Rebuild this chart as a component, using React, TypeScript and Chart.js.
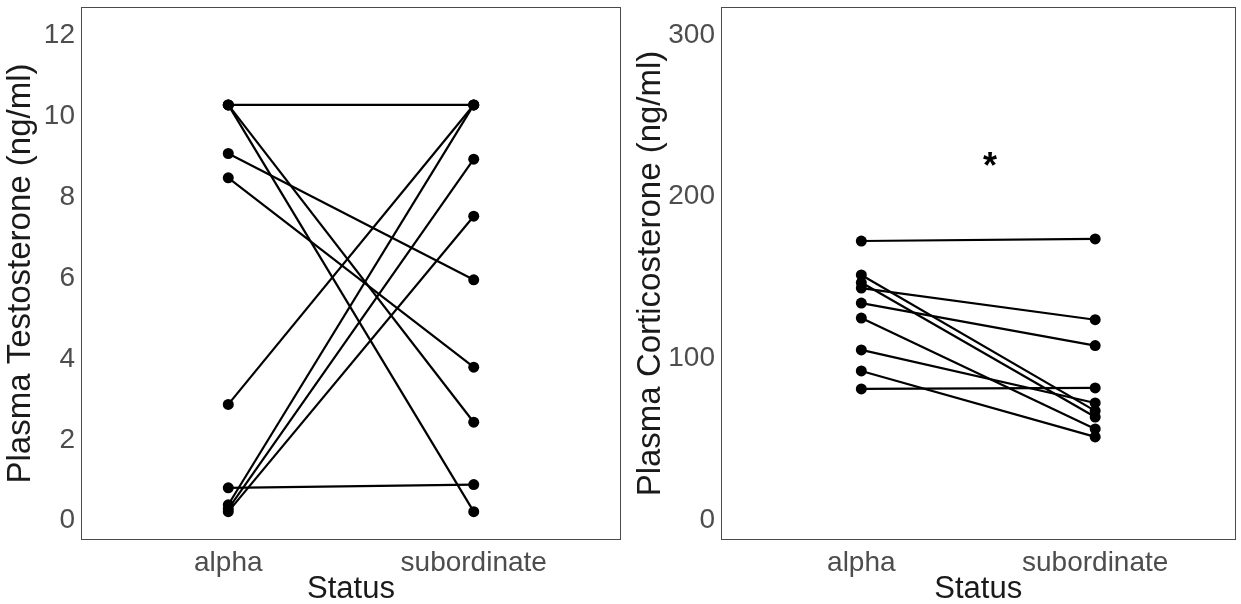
import React, { useEffect, useRef } from "react";
import { Chart, registerables } from "chart.js";

Chart.register(...registerables);

const statusCategories = ["alpha", "subordinate"];
const categoryPositions = [1, 2];

const testoAlpha = [10.2, 10.2, 10.2, 9.0, 8.4, 2.8, 0.74, 0.32, 0.22, 0.15];
const testoSub = [10.2, 2.36, 0.15, 5.88, 3.72, 10.2, 0.82, 10.2, 8.86, 7.45];
const testoTicks = [0, 2, 4, 6, 8, 10, 12];

const corticoAlpha = [170.7, 149.7, 145, 141.6, 132.3, 123, 103.3, 90.3, 79.2];
const corticoSub = [172, 65.6, 61.8, 122, 106, 54.4, 70.5, 49.5, 79.8];
const corticoTicks = [0, 100, 200, 300];

const starX = [1.55];
const starY = [221];
const starLabels = ["*"];

const FONT = "'Liberation Sans', Arial, sans-serif";

type PanelProps = {
  alpha: number[];
  sub: number[];
  ticks: number[];
  yMin: number;
  yMax: number;
  yTitle: string;
  yWidth: number;
  padRight: number;
  width: number;
  stars?: boolean;
};

const borderPlugin = {
  id: "panelBorder",
  afterDraw(chart: any) {
    const { ctx, chartArea } = chart;
    ctx.save();
    ctx.strokeStyle = "#4a4a4a";
    ctx.lineWidth = 1;
    ctx.strokeRect(
      Math.round(chartArea.left) + 0.5,
      Math.round(chartArea.top) + 0.5,
      Math.round(chartArea.right - chartArea.left) - 1,
      Math.round(chartArea.bottom - chartArea.top) - 1
    );
    ctx.restore();
  },
};

const starPlugin = {
  id: "starText",
  afterDatasetsDraw(chart: any, _args: any, opts: any) {
    if (!opts || !opts.enabled) return;
    const { ctx, scales } = chart;
    ctx.save();
    ctx.fillStyle = "#000";
    ctx.font = `bold 36px ${FONT}`;
    ctx.textAlign = "center";
    ctx.textBaseline = "middle";
    starX.forEach((x, i) => {
      ctx.fillText(
        starLabels[i],
        scales.x.getPixelForValue(x),
        scales.y.getPixelForValue(starY[i]) + 8
      );
    });
    ctx.restore();
  },
};

function Panel(p: PanelProps) {
  const ref = useRef<HTMLCanvasElement>(null);
  useEffect(() => {
    if (!ref.current) return;
    const datasets = p.alpha.map((a, i) => ({
      data: [
        { x: categoryPositions[0], y: a },
        { x: categoryPositions[1], y: p.sub[i] },
      ],
      borderColor: "#000",
      backgroundColor: "#000",
      borderWidth: 2.2,
      pointRadius: 5.5,
      pointBorderWidth: 0,
      pointBackgroundColor: "#000",
      fill: false,
    }));
    const chart = new Chart(ref.current, {
      type: "line",
      data: { datasets },
      plugins: [borderPlugin, starPlugin],
      options: {
        animation: false,
        responsive: false,
        devicePixelRatio: 1,
        layout: { padding: { top: 7, right: p.padRight, left: 0, bottom: 0 } },
        plugins: {
          legend: { display: false },
          tooltip: { enabled: false },
          // @ts-ignore
          starText: { enabled: !!p.stars },
        },
        scales: {
          x: {
            type: "linear",
            min: 0.4,
            max: 2.6,
            grid: { display: false, drawTicks: false },
            border: { display: false },
            afterBuildTicks: (s: any) => {
              s.ticks = categoryPositions.map((v) => ({ value: v }));
            },
            afterFit: (s: any) => {
              s.height = 64;
              s.paddingLeft = 0;
              s.paddingRight = 0;
            },
            ticks: {
              padding: 6,
              color: "#4d4d4d",
              font: { family: FONT, size: 28 },
              maxRotation: 0,
              autoSkip: false,
              callback: (v: any) => statusCategories[categoryPositions.indexOf(Number(v))] ?? "",
            },
            title: {
              display: true,
              text: "Status",
              color: "#1a1a1a",
              font: { family: FONT, size: 31 },
              padding: { top: 0, bottom: -4 },
            },
          },
          y: {
            type: "linear",
            min: p.yMin,
            max: p.yMax,
            grid: { display: false, drawTicks: false },
            border: { display: false },
            afterBuildTicks: (s: any) => {
              s.ticks = p.ticks.map((v) => ({ value: v }));
            },
            afterFit: (s: any) => {
              s.width = p.yWidth;
              s.paddingTop = 0;
              s.paddingBottom = 0;
            },
            ticks: {
              padding: 6,
              labelOffset: 3,
              color: "#4d4d4d",
              font: { family: FONT, size: 28 },
            },
            title: {
              display: true,
              text: p.yTitle,
              color: "#1a1a1a",
              font: { family: FONT, size: 33 },
              padding: { top: 1, bottom: 0 },
            },
          },
        },
      },
    });
    return () => chart.destroy();
  }, []);
  return (
    <canvas
      ref={ref}
      width={p.width}
      height={604}
      style={{ width: p.width, height: 604, display: "block" }}
    />
  );
}

export default function App() {
  return (
    <div
      style={{
        position: "absolute",
        left: 0,
        top: 0,
        width: 1241,
        height: 604,
        display: "flex",
        background: "#fff",
      }}
    >
      <Panel
        alpha={testoAlpha}
        sub={testoSub}
        ticks={testoTicks}
        yMin={-0.55}
        yMax={12.62}
        yTitle="Plasma Testosterone (ng/ml)"
        yWidth={81}
        padRight={9}
        width={630}
      />
      <Panel
        alpha={corticoAlpha}
        sub={corticoSub}
        ticks={corticoTicks}
        yMin={-14.3}
        yMax={315.5}
        yTitle="Plasma Corticosterone (ng/ml)"
        yWidth={91}
        padRight={2}
        width={611}
        stars
      />
    </div>
  );
}
